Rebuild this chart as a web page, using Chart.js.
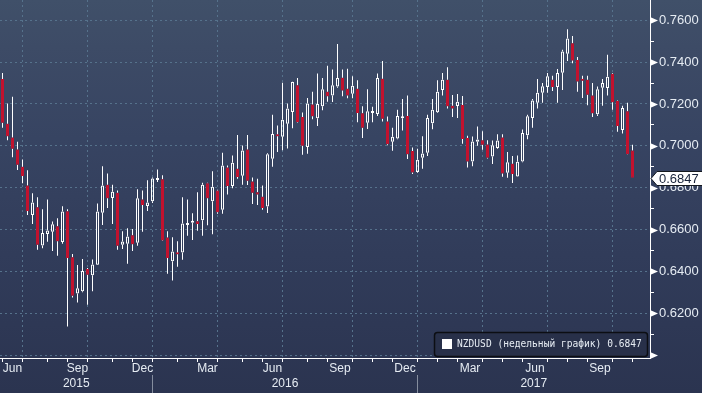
<!DOCTYPE html>
<html lang="ru">
<head>
<meta charset="UTF-8">
<title>NZDUSD weekly</title>
<script src="https://cdn.jsdelivr.net/npm/chart.js@4.4.0/dist/chart.umd.min.js"></script>
<style>
    html, body { margin: 0; padding: 0; background: #2c3651; }
    #wrap { width: 702px; height: 393px; }
    canvas { display: block; }
</style>
</head>
<body>
<div id="wrap"><canvas id="nzdChart" width="702" height="393"></canvas></div>
<script>
// weekly candles, first bar = week of 5 Jun 2015
const firstWeek = '2015-06-05';
const padWeeks = 3; // empty slots right of the last bar

const opens = [
    0.7319, 0.7106, 0.7040, 0.6983, 0.6900, 0.6811, 0.6670, 0.6706, 0.6524, 0.6579,
    0.6589, 0.6616, 0.6540, 0.6687, 0.6468, 0.6294, 0.6305, 0.6411, 0.6381, 0.6432,
    0.6680, 0.6814, 0.6751, 0.6776, 0.6527, 0.6532, 0.6573, 0.6537, 0.6744, 0.6713,
    0.6735, 0.6837, 0.6840, 0.6562, 0.6448, 0.6487, 0.6490, 0.6622, 0.6632, 0.6640,
    0.6644, 0.6821, 0.6735, 0.6787, 0.6694, 0.6897, 0.6808, 0.6890, 0.6857, 0.6983,
    0.6829, 0.6778, 0.6757, 0.6710, 0.6938, 0.7054, 0.7043, 0.7106, 0.7162, 0.7290,
    0.7138, 0.6995, 0.7197, 0.7132, 0.7189, 0.7259, 0.7241, 0.7284, 0.7325, 0.7273,
    0.7249, 0.7273, 0.7156, 0.7110, 0.7157, 0.7152, 0.7321, 0.7116, 0.7019, 0.7035,
    0.7132, 0.7143, 0.6975, 0.6875, 0.6943, 0.6967, 0.7108, 0.7160, 0.7267, 0.7316,
    0.7192, 0.7190, 0.7195, 0.7037, 0.6925, 0.7019, 0.7027, 0.7006, 0.6949, 0.6990,
    0.7040, 0.6871, 0.6914, 0.6854, 0.6925, 0.7051, 0.7133, 0.7206, 0.7254, 0.7281,
    0.7316, 0.7281, 0.7349, 0.7440, 0.7490, 0.7410, 0.7316, 0.7316, 0.7241, 0.7151,
    0.7278, 0.7276, 0.7345, 0.7214, 0.7076, 0.7165, 0.6978
];
const highs = [
    0.7348, 0.7202, 0.7235, 0.7019, 0.6935, 0.6883, 0.6773, 0.6754, 0.6697, 0.6744,
    0.6638, 0.6654, 0.6711, 0.6697, 0.6483, 0.6430, 0.6459, 0.6416, 0.6457, 0.6725,
    0.6902, 0.6868, 0.6814, 0.6787, 0.6592, 0.6606, 0.6602, 0.6792, 0.6787, 0.6836,
    0.6849, 0.6887, 0.6859, 0.6592, 0.6563, 0.6544, 0.6754, 0.6744, 0.6678, 0.6778,
    0.6824, 0.6823, 0.6878, 0.6790, 0.6967, 0.6906, 0.6954, 0.7052, 0.7002, 0.7052,
    0.6849, 0.6843, 0.6811, 0.6965, 0.7149, 0.7097, 0.7302, 0.7202, 0.7306, 0.7324,
    0.7159, 0.7229, 0.7259, 0.7346, 0.7324, 0.7383, 0.7365, 0.7487, 0.7365, 0.7368,
    0.7332, 0.7313, 0.7189, 0.7270, 0.7187, 0.7346, 0.7405, 0.7140, 0.7087, 0.7173,
    0.7224, 0.7240, 0.6992, 0.6986, 0.7046, 0.7148, 0.7224, 0.7313, 0.7348, 0.7376,
    0.7243, 0.7248, 0.7238, 0.7048, 0.7045, 0.7092, 0.7070, 0.7027, 0.7025, 0.7055,
    0.7055, 0.6971, 0.6952, 0.6954, 0.7078, 0.7149, 0.7224, 0.7319, 0.7300, 0.7348,
    0.7335, 0.7367, 0.7459, 0.7557, 0.7525, 0.7424, 0.7335, 0.7335, 0.7300, 0.7284,
    0.7319, 0.7435, 0.7348, 0.7217, 0.7192, 0.7206, 0.7005
];
const lows = [
    0.7086, 0.7027, 0.6946, 0.6884, 0.6821, 0.6670, 0.6627, 0.6503, 0.6511, 0.6541,
    0.6497, 0.6475, 0.6532, 0.6137, 0.6275, 0.6251, 0.6300, 0.6240, 0.6305, 0.6430,
    0.6622, 0.6703, 0.6627, 0.6503, 0.6507, 0.6437, 0.6497, 0.6522, 0.6589, 0.6689,
    0.6727, 0.6827, 0.6545, 0.6389, 0.6356, 0.6422, 0.6456, 0.6570, 0.6550, 0.6594,
    0.6570, 0.6621, 0.6578, 0.6675, 0.6675, 0.6767, 0.6797, 0.6843, 0.6814, 0.6813,
    0.6722, 0.6717, 0.6695, 0.6679, 0.6900, 0.6971, 0.6979, 0.6987, 0.7084, 0.7112,
    0.6957, 0.6962, 0.7127, 0.7095, 0.7170, 0.7211, 0.7210, 0.7278, 0.7237, 0.7227,
    0.7227, 0.7113, 0.7038, 0.7081, 0.7113, 0.7143, 0.7116, 0.7003, 0.6976, 0.7032,
    0.7073, 0.6937, 0.6865, 0.6871, 0.6890, 0.6951, 0.7079, 0.7157, 0.7240, 0.7179,
    0.7138, 0.7133, 0.7010, 0.6897, 0.6902, 0.7000, 0.6981, 0.6940, 0.6913, 0.6986,
    0.6852, 0.6848, 0.6822, 0.6852, 0.6921, 0.7032, 0.7087, 0.7178, 0.7206, 0.7254,
    0.7262, 0.7206, 0.7267, 0.7405, 0.7395, 0.7259, 0.7229, 0.7194, 0.7138, 0.7143,
    0.7191, 0.7241, 0.7173, 0.7067, 0.7059, 0.6958, 0.6847
];
const closes = [
    0.7110, 0.7046, 0.6986, 0.6910, 0.6856, 0.6689, 0.6729, 0.6527, 0.6583, 0.6595,
    0.6625, 0.6544, 0.6686, 0.6464, 0.6283, 0.6319, 0.6402, 0.6384, 0.6433, 0.6686,
    0.6810, 0.6749, 0.6781, 0.6522, 0.6543, 0.6567, 0.6530, 0.6749, 0.6717, 0.6729,
    0.6844, 0.6844, 0.6548, 0.6464, 0.6495, 0.6482, 0.6629, 0.6630, 0.6635, 0.6627,
    0.6814, 0.6749, 0.6805, 0.6683, 0.6906, 0.6808, 0.6919, 0.6851, 0.6978, 0.6833,
    0.6776, 0.6767, 0.6703, 0.6960, 0.7057, 0.7046, 0.7125, 0.7178, 0.7305, 0.7114,
    0.7000, 0.7202, 0.7141, 0.7200, 0.7271, 0.7237, 0.7289, 0.7324, 0.7265, 0.7240,
    0.7287, 0.7157, 0.7086, 0.7165, 0.7165, 0.7324, 0.7129, 0.7008, 0.7044, 0.7143,
    0.7138, 0.6960, 0.6873, 0.6933, 0.6963, 0.7133, 0.7173, 0.7259, 0.7316, 0.7189,
    0.7178, 0.7211, 0.7033, 0.6925, 0.7021, 0.7030, 0.7005, 0.6943, 0.7003, 0.7025,
    0.6868, 0.6921, 0.6865, 0.6924, 0.7061, 0.7141, 0.7217, 0.7254, 0.7285, 0.7333,
    0.7281, 0.7348, 0.7451, 0.7513, 0.7408, 0.7308, 0.7311, 0.7244, 0.7156, 0.7270,
    0.7300, 0.7330, 0.7208, 0.7095, 0.7181, 0.6960, 0.6847
];

// axis settings
const yMin = 0.5986;
const yMax = 0.7697;
const yStep = 0.01;
const monthNames = ['Jan', 'Feb', 'Mar', 'Apr', 'May', 'Jun', 'Jul', 'Aug', 'Sep', 'Oct', 'Nov', 'Dec'];
const labelledMonths = [2, 5, 8, 11];
const gridMonths = [0, 3, 6, 9];
const legendText = 'NZDUSD (недельный график)';

const colors = {
    up: '#ffffff',
    down: '#c2122e',
    wick: '#ffffff',
    grid: '#56728c',
    axis: '#ffffff',
    text: '#e6ecf3',
    yearSep: '#858d9e'
};

document.addEventListener('DOMContentLoaded', function() {
    initChart();
});

function isMajor(value) {
    return Math.round(value * 100) % 2 === 0;
}

// first bar of every period (month / year)
function findPeriodStarts(dates, keyFn) {
    const starts = [];
    dates.forEach((d, i) => {
        const key = keyFn(d);
        if (i === 0 || key !== keyFn(dates[i - 1])) {
            starts.push({ index: i, key: key, date: d });
        }
    });
    return starts;
}

function initChart() {
    const start = new Date(firstWeek + 'T00:00:00Z');
    const weekDates = [];
    for (let i = 0; i < opens.length + padWeeks; i++) {
        weekDates.push(new Date(start.getTime() + i * 7 * 86400000));
    }
    const weekLabels = weekDates.map(d => d.toISOString().slice(0, 10));

    const monthStarts = findPeriodStarts(weekDates, d => d.getUTCFullYear() * 12 + d.getUTCMonth());
    const yearStarts = findPeriodStarts(weekDates, d => d.getUTCFullYear());
    const monthTickSet = new Set(monthStarts.map(m => m.index));
    const gridTickSet = new Set(monthStarts.filter(m => gridMonths.includes(m.date.getUTCMonth())).map(m => m.index));

    const bodies = opens.map((o, i) => [o, closes[i]]);
    const upperWicks = opens.map((o, i) => [Math.max(o, closes[i]), highs[i]]);
    const lowerWicks = opens.map((o, i) => [lows[i], Math.min(o, closes[i])]);
    const isUp = opens.map((o, i) => closes[i] >= o);
    const lastClose = closes[closes.length - 1];

    // background gradient
    const chartBackground = {
        id: 'chartBackground',
        beforeDraw(chart) {
            const ctx = chart.ctx;
            const g = ctx.createLinearGradient(0, 0, 0, chart.height);
            g.addColorStop(0, '#405069');
            g.addColorStop(0.12, '#3d4b66');
            g.addColorStop(0.35, '#374462');
            g.addColorStop(0.65, '#313c5a');
            g.addColorStop(1, '#2b3450');
            ctx.save();
            ctx.fillStyle = g;
            ctx.fillRect(0, 0, chart.width, chart.height);
            ctx.restore();
        }
    };

    // arrows, month / year labels, price tag, legend
    const chartExtras = {
        id: 'chartExtras',
        afterDraw(chart) {
            const ctx = chart.ctx;
            const xs = chart.scales.x;
            const ys = chart.scales.y;
            const area = chart.chartArea;
            ctx.save();

            // arrow markers on major y ticks
            ctx.fillStyle = colors.axis;
            ys.ticks.forEach(t => {
                if (!isMajor(t.value)) return;
                const py = Math.round(ys.getPixelForValue(t.value)) + 0.5;
                ctx.beginPath();
                ctx.moveTo(area.right, py - 3.5);
                ctx.lineTo(area.right + 8, py);
                ctx.lineTo(area.right, py + 3.5);
                ctx.closePath();
                ctx.fill();
            });

            // month labels, centred in the month
            ctx.font = '12px "Liberation Sans", Arial, sans-serif';
            ctx.fillStyle = colors.text;
            ctx.textAlign = 'center';
            ctx.textBaseline = 'middle';
            monthStarts.forEach((m, k) => {
                if (!labelledMonths.includes(m.date.getUTCMonth())) return;
                const next = monthStarts[k + 1];
                const x0 = xs.getPixelForValue(m.index);
                const x1 = next ? xs.getPixelForValue(next.index) : area.right;
                ctx.fillText(monthNames[m.date.getUTCMonth()], (x0 + x1) / 2, 368.5);
            });

            // year labels and separators
            yearStarts.forEach((y, k) => {
                const next = yearStarts[k + 1];
                const x0 = k === 0 ? area.left : xs.getPixelForValue(y.index);
                const x1 = next ? xs.getPixelForValue(next.index) : area.right;
                ctx.fillStyle = colors.text;
                ctx.fillText(String(y.key), (x0 + x1) / 2, 383.5);
                if (k > 0) {
                    ctx.strokeStyle = colors.yearSep;
                    ctx.lineWidth = 1;
                    ctx.beginPath();
                    ctx.moveTo(x0, 375);
                    ctx.lineTo(x0, chart.height);
                    ctx.stroke();
                }
            });

            // last price tag
            const py = Math.round(ys.getPixelForValue(lastClose)) + 0.5;
            ctx.beginPath();
            ctx.moveTo(area.right + 1, py);
            ctx.lineTo(area.right + 7, py - 7);
            ctx.lineTo(chart.width + 2, py - 7);
            ctx.lineTo(chart.width + 2, py + 7);
            ctx.lineTo(area.right + 7, py + 7);
            ctx.closePath();
            ctx.fillStyle = '#ffffff';
            ctx.fill();
            ctx.strokeStyle = '#15191f';
            ctx.lineWidth = 1;
            ctx.stroke();
            ctx.font = '13px "Liberation Sans", Arial, sans-serif';
            ctx.fillStyle = '#18233a';
            ctx.textAlign = 'left';
            ctx.fillText(lastClose.toFixed(4), area.right + 9, py + 0.5);

            // legend box
            const bx = 434.5, by = 332.5, bw = 213, bh = 24;
            ctx.beginPath();
            ctx.roundRect(bx, by, bw, bh, 3);
            ctx.fillStyle = '#283049';
            ctx.fill();
            ctx.strokeStyle = '#0c0e13';
            ctx.lineWidth = 1.5;
            ctx.stroke();
            ctx.fillStyle = '#ffffff';
            ctx.fillRect(442, 339, 10, 10);
            ctx.font = '9.6px "DejaVu Sans Mono", monospace';
            ctx.fillStyle = colors.text;
            ctx.fillText(legendText + ' ' + lastClose.toFixed(4), 457, 344.5);

            ctx.restore();
        }
    };

    const ctx = document.getElementById('nzdChart');
    new Chart(ctx, {
        type: 'bar',
        data: {
            labels: weekLabels,
            datasets: [{
                label: 'body',
                data: bodies,
                backgroundColor: isUp.map(u => u ? 'rgba(0,0,0,0)' : colors.down),
                borderColor: isUp.map(u => u ? colors.up : colors.down),
                borderWidth: 1,
                borderSkipped: false,
                barThickness: 3,
                minBarLength: 2,
                grouped: false,
                inflateAmount: 0
            }, {
                label: 'upperWick',
                data: upperWicks,
                backgroundColor: colors.wick,
                borderWidth: 0,
                barThickness: 1,
                grouped: false,
                inflateAmount: 0
            }, {
                label: 'lowerWick',
                data: lowerWicks,
                backgroundColor: colors.wick,
                borderWidth: 0,
                barThickness: 1,
                grouped: false,
                inflateAmount: 0
            }]
        },
        options: {
            responsive: false,
            animation: false,
            events: [],
            layout: { padding: 0 },
            plugins: {
                legend: { display: false },
                tooltip: { enabled: false }
            },
            scales: {
                x: {
                    type: 'category',
                    offset: true,
                    grid: {
                        offset: false,
                        color: c => gridTickSet.has(c.index) ? colors.grid : 'rgba(0,0,0,0)',
                        tickColor: c => monthTickSet.has(c.index) ? colors.axis : 'rgba(0,0,0,0)',
                        tickLength: 4,
                        lineWidth: 1
                    },
                    border: { display: true, color: colors.axis, width: 1, dash: [2, 3] },
                    ticks: { display: false, autoSkip: false },
                    afterFit: scale => {
                        scale.height = 35;
                        scale.paddingLeft = 0;
                        scale.paddingRight = 0;
                    }
                },
                y: {
                    type: 'linear',
                    position: 'right',
                    min: yMin,
                    max: yMax,
                    grid: {
                        color: c => c.tick && isMajor(c.tick.value) ? colors.grid : 'rgba(0,0,0,0)',
                        tickColor: colors.axis,
                        tickLength: 4,
                        lineWidth: 1
                    },
                    border: { display: true, color: colors.axis, width: 1, dash: [2, 3] },
                    ticks: {
                        stepSize: yStep,
                        includeBounds: false,
                        autoSkip: false,
                        padding: 5,
                        color: colors.text,
                        font: { family: '"Liberation Sans", Arial, sans-serif', size: 13 },
                        callback: function(value) {
                            if (!isMajor(value) || Math.round(value * 100) === 60) return '';
                            return Number(value).toFixed(4);
                        }
                    },
                    afterFit: scale => {
                        scale.width = 52;
                        scale.paddingTop = 0;
                        scale.paddingBottom = 0;
                    }
                }
            }
        },
        plugins: [chartBackground, chartExtras]
    });
}
</script>
</body>
</html>
